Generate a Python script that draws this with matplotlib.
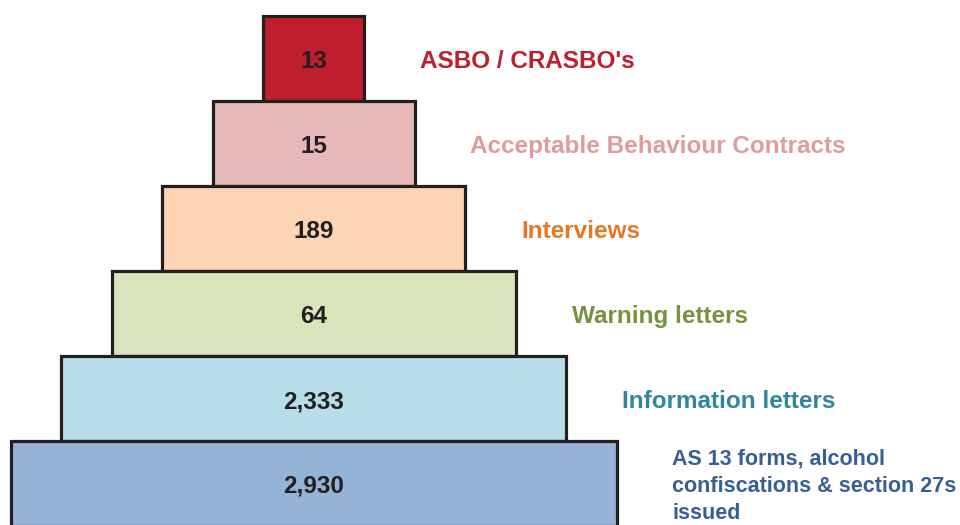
import matplotlib
matplotlib.use("Agg")
import matplotlib.pyplot as plt
from matplotlib.patches import Rectangle

categories = ["ASBO / CRASBO's", "Acceptable Behaviour Contracts", "Interviews",
              "Warning letters", "Information letters",
              "AS 13 forms, alcohol\nconfiscations & section 27s\nissued"]
values = ["13", "15", "189", "64", "2,333", "2,930"]
fill_colors = ["#BE1E2D", "#E6B9B8", "#FCD5B4", "#D8E4BC", "#B7DEE8", "#95B3D7"]
label_colors = ["#BE1E2D", "#DE9C9C", "#E87722", "#76923C", "#31859C", "#376092"]

plt.rcParams['font.family'] = ['Liberation Sans', 'DejaVu Sans']

fig = plt.figure(figsize=(9.6, 5.25), dpi=100)
ax = fig.add_axes([0, 0, 1, 1])
ax.set_xlim(0, 960)
ax.set_ylim(525, 0)
ax.axis('off')

cx = 313.5
top0 = 16
h = 85
half_step = 50.5
gap = 56

n = len(categories)
for i, (cat, val, fc, lc) in enumerate(zip(categories, values, fill_colors, label_colors)):
    half = half_step * (i + 1)
    top = top0 + i * h
    ax.add_patch(Rectangle((cx - half, top), 2 * half, h, facecolor=fc,
                           edgecolor="#231F20", linewidth=2.3, zorder=2 + i))
    ax.text(cx, top + h / 2 + 3, val, ha='center', va='center', fontsize=17.5,
            fontweight='bold', color="#231F20", zorder=10)
    last = (i == n - 1)
    ax.text(cx + half + gap, top + h / 2 + (3 if last else 3), cat, ha='left', va='center',
            fontsize=15.5 if last else 17.5, fontweight='bold', color=lc,
            linespacing=1.4, zorder=10)

fig.savefig("out.png", dpi=100)
